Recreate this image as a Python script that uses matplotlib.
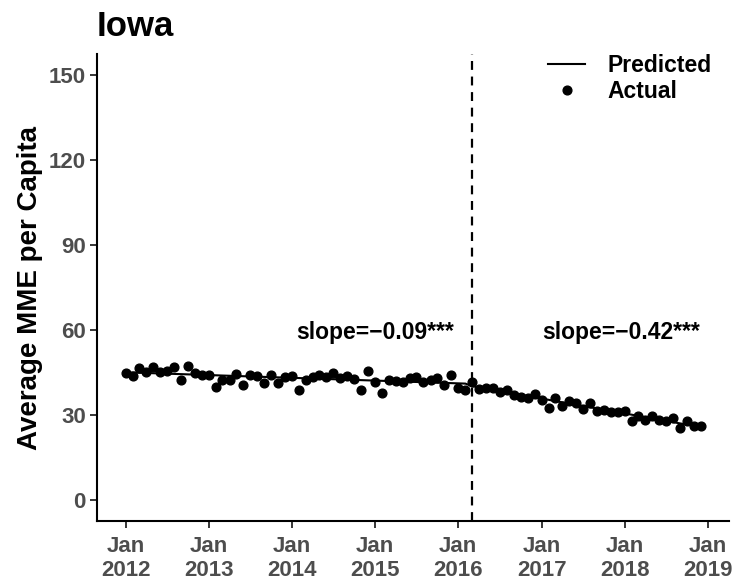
import numpy as np
import pandas as pd
import matplotlib
matplotlib.use("Agg")
import matplotlib.pyplot as plt
import matplotlib.dates as mdates

plt.rcParams['font.family'] = ['Liberation Sans', 'DejaVu Sans']

# monthly average MME per capita, Jan 2012 - Dec 2018
values_2012 = [44.8, 43.8, 46.6, 45.2, 46.9, 45.2, 45.5, 46.9, 42.4, 47.3, 44.8, 44.1]
values_2013 = [44.1, 39.9, 42.4, 42.4, 44.5, 40.6, 44.1, 43.8, 41.3, 44.1, 41.3, 43.4]
values_2014 = [43.8, 38.8, 42.4, 43.4, 44.1, 43.4, 44.8, 43.1, 43.8, 42.7, 38.8, 45.5]
values_2015 = [41.7, 37.8, 42.4, 42.0, 41.7, 43.1, 43.4, 41.7, 42.4, 43.1, 40.6, 44.1]
values_2016 = [39.5, 38.8, 41.7, 39.2, 39.5, 39.5, 38.1, 38.8, 37.1, 36.4, 36.0, 37.4]
values_2017 = [35.3, 32.5, 36.0, 33.2, 34.9, 34.2, 32.1, 34.2, 31.4, 31.8, 31.1, 31.1]
values_2018 = [31.4, 27.9, 29.7, 28.2, 29.7, 28.2, 27.9, 28.9, 25.4, 27.9, 26.1, 26.1]

actual = (values_2012 + values_2013 + values_2014 + values_2015
          + values_2016 + values_2017 + values_2018)
dates = pd.date_range('2012-01-01', periods=len(actual), freq='MS')
policy_date = pd.Timestamp('2016-03-01')
slope_labels = ['slope=\u22120.09***', 'slope=\u22120.42***']

df = pd.DataFrame({'date': dates, 'actual': actual})
df['t'] = np.arange(len(df))
df['post'] = df['date'] >= policy_date

# segmented linear fit (predicted)
pred = np.zeros(len(df))
for flag in [False, True]:
    m = df['post'] == flag
    coef = np.polyfit(df.loc[m, 't'], df.loc[m, 'actual'], 1)
    pred[m.values] = np.polyval(coef, df.loc[m, 't'])
df['pred'] = pred

fig = plt.figure(figsize=(7.32, 5.88), dpi=100)
ax = fig.add_axes([0.1325, 0.114, 0.864, 0.794])

ax.plot(df['date'], df['pred'], color='black', lw=1.5, label='Predicted', zorder=2)
ax.plot(df['date'], df['actual'], 'o', color='black', ms=6.3, label='Actual', zorder=3)
ax.axvline(policy_date, color='black', lw=1.6, ls=(0, (4, 3)))

ax.text(pd.Timestamp('2015-01-01'), 59, slope_labels[0], ha='center', va='center',
        fontsize=16.5, fontweight='bold')
ax.text(pd.Timestamp('2017-12-15'), 59, slope_labels[1], ha='center', va='center',
        fontsize=16.5, fontweight='bold')

ax.set_ylim(-7.5, 157.5)
ax.set_yticks([0, 30, 60, 90, 120, 150])
span = dates[-1] - dates[0]
ax.set_xlim(dates[0] - span * 0.05, dates[-1] + span * 0.05)
ax.set_xticks(pd.date_range('2012-01-01', '2019-01-01', freq='YS'))
ax.xaxis.set_major_formatter(mdates.DateFormatter('%b\n%Y'))

for s in ['top', 'right']:
    ax.spines[s].set_visible(False)
for s in ['left', 'bottom']:
    ax.spines[s].set_linewidth(1.5)
ax.tick_params(direction='out', length=5, width=1.1, color='black',
               labelsize=16, labelcolor='#4D4D4D', pad=3)
ax.tick_params(axis='x', pad=6)
for lab in ax.get_xticklabels() + ax.get_yticklabels():
    lab.set_fontweight('bold')
    lab.set_linespacing(1.2)

ax.set_ylabel('Average MME per Capita', fontsize=20, fontweight='bold', labelpad=4)
ax.set_title('Iowa', loc='left', fontsize=25, fontweight='bold', pad=13)

leg = ax.legend(loc='upper right', bbox_to_anchor=(1.005, 1.045), frameon=False,
                prop={'weight': 'bold', 'size': 16.5}, handlelength=1.6,
                labelspacing=0.15, handletextpad=1.0)

fig.savefig('out.png', dpi=100)
